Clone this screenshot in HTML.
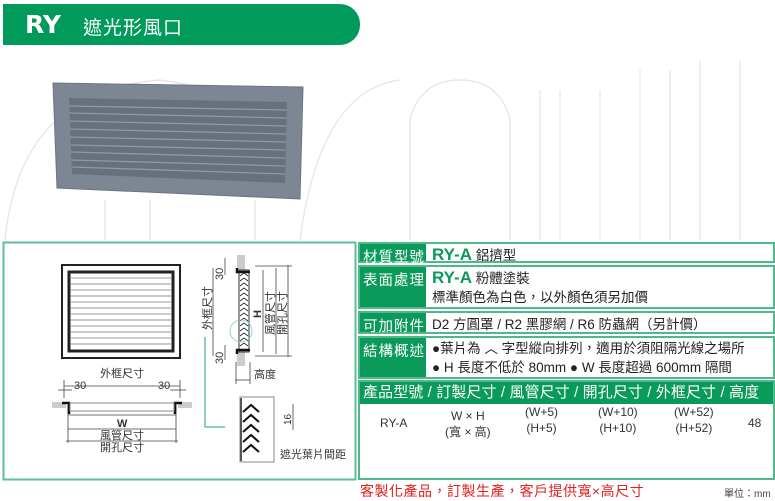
<!DOCTYPE html>
<html><head><meta charset="utf-8"><style>
body{margin:0;width:775px;height:500px;background:#fff;position:relative;overflow:hidden;font-family:"Liberation Sans","Noto Sans CJK TC",sans-serif;}
.abs{position:absolute}
.hdr{left:3px;top:4px;width:357px;height:41px;background:#009a5a;border-radius:0 20px 20px 0;color:#fff}
.row{position:absolute;left:358px;width:417px;border:2px solid #4fb98a;box-sizing:border-box;background:#fff}
.lab{position:absolute;left:0;top:0;bottom:0;width:66px;background:#0a9a5a;color:#fff;font-size:14.5px;padding:2px 0 0 3px;box-sizing:border-box;letter-spacing:1px;white-space:nowrap}
.ct{position:absolute;left:72px;top:1px;font-size:13.5px;color:#222;line-height:19px;white-space:nowrap}
.g{color:#0a9a5a;font-weight:bold;font-size:17px}
.td{position:absolute;font-size:12px;color:#333;text-align:center;line-height:16px}
</style></head><body>
<svg class="abs" style="left:0;top:0" width="775" height="500">
<g fill="none" stroke="#e4e4e4" stroke-width="1.2">
<path d="M5 240 Q20 90 160 80 Q200 85 230 100"/>
<path d="M300 240 Q320 90 400 80"/>
<path d="M105 240 V200"/>
<path d="M150 240 V200"/>
<path d="M255 240 V200"/>
<path d="M410 240 V120 Q420 80 460 80 Q500 80 510 120 V240"/>
<path d="M540 240 V90 M560 240 V90 M600 240 V90"/>
<path d="M640 240 V70 M670 240 V70 M700 240 V60 M740 240 V60"/>
</g>
<polygon points="53,83 303,87 300,199 57,188" fill="#7c8793" stroke="#6b7581"/>
<polygon points="69,98 287,102 285,183 72,174" fill="#66717c"/>
<g stroke="#8e99a4" stroke-width="1.3">
<line x1="69" y1="106" x2="287" y2="110"/><line x1="69" y1="113" x2="287" y2="118"/><line x1="70" y1="121" x2="286" y2="126"/><line x1="70" y1="129" x2="286" y2="134"/><line x1="70" y1="137" x2="286" y2="142"/><line x1="71" y1="145" x2="285" y2="150"/><line x1="71" y1="152" x2="285" y2="158"/><line x1="71" y1="160" x2="285" y2="166"/><line x1="72" y1="167" x2="285" y2="174"/>
</g>
<rect x="3.5" y="242.5" width="352" height="237" fill="none" stroke="#5fbf98" stroke-width="2"/>
<rect x="62" y="265" width="118" height="93" fill="none" stroke="#222" stroke-width="2"/>
<rect x="69" y="272" width="104" height="79" fill="none" stroke="#222" stroke-width="3"/>
<g stroke="#999" stroke-width="1">
<line x1="71" y1="278" x2="171" y2="278"/><line x1="71" y1="284" x2="171" y2="284"/><line x1="71" y1="290" x2="171" y2="290"/><line x1="71" y1="296" x2="171" y2="296"/><line x1="71" y1="302" x2="171" y2="302"/><line x1="71" y1="308" x2="171" y2="308"/><line x1="71" y1="314" x2="171" y2="314"/><line x1="71" y1="320" x2="171" y2="320"/><line x1="71" y1="326" x2="171" y2="326"/><line x1="71" y1="332" x2="171" y2="332"/><line x1="71" y1="338" x2="171" y2="338"/><line x1="71" y1="344" x2="171" y2="344"/>
</g>
<g stroke="#444" stroke-width="0.8" fill="none">
<line x1="64" y1="386" x2="180" y2="386"/><line x1="58" y1="390" x2="72" y2="390"/><line x1="170" y1="390" x2="186" y2="390"/>
<line x1="64" y1="380" x2="64" y2="398"/><line x1="180" y1="380" x2="180" y2="398"/>
<line x1="68" y1="415" x2="176" y2="415"/><line x1="68" y1="429" x2="176" y2="429"/><line x1="66" y1="441" x2="178" y2="441"/>
<line x1="68" y1="405" x2="68" y2="443"/><line x1="176" y1="405" x2="176" y2="443"/>
</g>
<rect x="52" y="402" width="14" height="6" fill="#ccc"/><rect x="178" y="402" width="14" height="6" fill="#ccc"/>
<path d="M62 403 H69 V414 M182 403 H175 V414" stroke="#111" stroke-width="2.5" fill="none"/>
<rect x="70" y="403" width="104" height="8" fill="none" stroke="#888"/>
<g fill="#333" font-size="11" font-family="Liberation Sans,Noto Sans CJK TC,sans-serif">
<text x="100" y="377">外框尺寸</text><text x="74" y="389">30</text><text x="158" y="389">30</text>
<text x="117" y="427" font-weight="bold">W</text><text x="100" y="439">風管尺寸</text><text x="100" y="451">開孔尺寸</text>
</g>
<rect x="237" y="255" width="8" height="15" fill="#ccc"/><rect x="237" y="352" width="8" height="14" fill="#ccc"/>
<rect x="239" y="270" width="10" height="82" fill="#fff" stroke="#333"/>
<path d="M237 268 V272 H250 M237 354 V350 H250" stroke="#111" stroke-width="2.5" fill="none"/>
<g stroke="#222" stroke-width="0.8" fill="none">
<path d="M240 276 l4 -3 l4 3 M240 281 l4 -3 l4 3 M240 286 l4 -3 l4 3 M240 291 l4 -3 l4 3 M240 296 l4 -3 l4 3 M240 301 l4 -3 l4 3 M240 306 l4 -3 l4 3 M240 311 l4 -3 l4 3 M240 316 l4 -3 l4 3 M240 321 l4 -3 l4 3 M240 326 l4 -3 l4 3 M240 331 l4 -3 l4 3 M240 336 l4 -3 l4 3 M240 341 l4 -3 l4 3 M240 346 l4 -3 l4 3"/>
</g>
<g stroke="#444" stroke-width="0.8" fill="none">
<line x1="213" y1="268" x2="213" y2="356"/><line x1="225" y1="258" x2="225" y2="275"/><line x1="225" y1="345" x2="225" y2="360"/>
<line x1="263" y1="270" x2="263" y2="352"/><line x1="276" y1="268" x2="276" y2="354"/><line x1="288" y1="265" x2="288" y2="357"/>
<line x1="255" y1="266" x2="292" y2="266"/><line x1="255" y1="356" x2="292" y2="356"/>
<line x1="235" y1="380" x2="250" y2="380"/><line x1="236" y1="362" x2="236" y2="384"/><line x1="250" y1="362" x2="250" y2="384"/>
<circle cx="241" cy="331" r="11" stroke="#7cc"/>
</g>
<path d="M205 337 V427 H225" stroke="#1aa07a" fill="none"/>
<rect x="240" y="397" width="34" height="65" fill="#fff" stroke="#888"/>
<line x1="241" y1="398" x2="241" y2="461" stroke="#555" stroke-width="2"/>
<g stroke="#111" stroke-width="2" fill="none">
<path d="M243 412 l8 -7 l8 7 M243 422 l8 -7 l8 7 M243 432 l8 -7 l8 7 M243 442 l8 -7 l8 7 M243 452 l8 -7 l8 7"/>
</g>
<line x1="293" y1="404" x2="293" y2="430" stroke="#444" stroke-width="0.8"/>
<g fill="#333" font-size="11" font-family="Liberation Sans,Noto Sans CJK TC,sans-serif">
<text transform="translate(223,262) rotate(-90)" x="-18" y="0">30</text>
<text transform="translate(223,362) rotate(-90)" x="-2" y="0">30</text>
<text transform="translate(211,330) rotate(-90)">外框尺寸</text>
<text transform="translate(261,318) rotate(-90)" font-weight="bold">H</text>
<text transform="translate(274,335) rotate(-90)">風管尺寸</text>
<text transform="translate(286,335) rotate(-90)">開孔尺寸</text>
<text x="254" y="378">高度</text>
<text transform="translate(291,425) rotate(-90)" font-size="10">16</text>
<text x="280" y="458">遮光葉片間距</text>
</g>
</svg>
<div class="abs hdr"><span class="abs" style="left:22px;top:6px;font-size:25px;font-weight:bold;font-family:'DejaVu Sans','Liberation Sans',sans-serif">RY</span><span class="abs" style="left:80px;top:9px;font-size:19px;letter-spacing:1px">遮光形風口</span></div>

<div class="row" style="top:242px;height:21px"><div class="lab">材質型號</div><div class="ct"><span class="g">RY-A</span> 鋁擠型</div></div>
<div class="row" style="top:265px;height:44px"><div class="lab">表面處理</div><div class="ct"><span class="g">RY-A</span> 粉體塗裝<br>標準顏色為白色，以外顏色須另加價</div></div>
<div class="row" style="top:311px;height:23px"><div class="lab">可加附件</div><div class="ct" style="top:2px">D2 方圓罩 / R2 黑膠網 / R6 防蟲網（另計價）</div></div>
<div class="row" style="top:336px;height:43px"><div class="lab">結構概述</div><div class="ct">●葉片為 ︿ 字型縱向排列，適用於須阻隔光線之場所<br>● H 長度不低於 80mm ● W 長度超過 600mm 隔間</div></div>
<div class="row" style="top:380px;height:100px">
<div class="abs" style="left:0;top:0;right:0;height:22px;background:#0a9a5a;color:#fff;font-size:15px;line-height:22px;padding-left:3px;white-space:nowrap;letter-spacing:0.1px;overflow:hidden">產品型號 / 訂製尺寸 / 風管尺寸 / 開孔尺寸 / 外框尺寸 / 高度</div>
<div class="td" style="left:20px;top:33px">RY-A</div>
<div class="td" style="left:85px;top:26px">W × H<br>(寬 × 高)</div>
<div class="td" style="left:165px;top:22px">(W+5)<br>(H+5)</div>
<div class="td" style="left:238px;top:22px">(W+10)<br>(H+10)</div>
<div class="td" style="left:314px;top:22px">(W+52)<br>(H+52)</div>
<div class="td" style="left:388px;top:33px">48</div>
</div>
<div class="abs" style="left:360px;top:481px;color:#e0201e;font-size:14px;letter-spacing:0.5px">客製化產品，訂製生產，客戶提供寬×高尺寸</div>
<div class="abs" style="left:724px;top:485px;color:#444;font-size:10px">單位：mm</div>
</body></html>
